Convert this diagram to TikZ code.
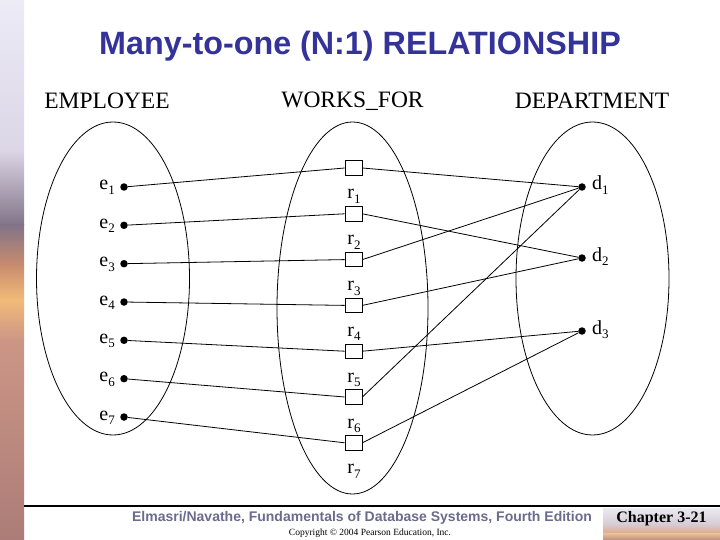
\documentclass[tikz,border=0pt]{standalone}
\usepackage{fontspec}
\setmainfont{Liberation Serif}
\setsansfont{Liberation Sans}
\definecolor{titleblue}{HTML}{333399}
\definecolor{footgray}{HTML}{6B6B8E}
\newcommand{\mysub}[1]{\raisebox{-4.5pt}{\fontsize{13}{14}\selectfont #1}}
\begin{document}
\begin{tikzpicture}[x=1pt,y=-1pt,
  dot/.style={circle,fill=black,inner sep=0pt,minimum size=7.5pt},
  rbox/.style={draw,fill=white,inner sep=0pt,minimum width=17pt,minimum height=14.5pt,line width=0.8pt},
  lbl/.style={font=\fontsize{20}{22}\selectfont,inner sep=0pt},
  head/.style={font=\fontsize{23.5}{26}\selectfont,inner sep=0pt},
  link/.style={line width=0.8pt},
  setell/.style={line width=0.8pt}]
\useasboundingbox (0,0) rectangle (720,540);
\fill[white] (0,0) rectangle (720,540);
% left decorative strip
\shade[top color={rgb,255:red,236;green,235;blue,246},bottom color={rgb,255:red,220;green,214;blue,230}] (0,0) rectangle (24,150);
\shade[top color={rgb,255:red,220;green,214;blue,230},bottom color={rgb,255:red,130;green,116;blue,136}] (0,150) rectangle (24,225);
\shade[top color={rgb,255:red,130;green,116;blue,136},bottom color={rgb,255:red,200;green,140;blue,110}] (0,225) rectangle (24,265);
\shade[top color={rgb,255:red,200;green,140;blue,110},bottom color={rgb,255:red,242;green,186;blue,120}] (0,265) rectangle (24,300);
\shade[top color={rgb,255:red,242;green,186;blue,120},bottom color={rgb,255:red,204;green,150;blue,134}] (0,300) rectangle (24,340);
\shade[top color={rgb,255:red,204;green,150;blue,134},bottom color={rgb,255:red,172;green,124;blue,120}] (0,340) rectangle (24,540);
% chapter box background
\shade[top color={rgb,255:red,236;green,234;blue,240},bottom color={rgb,255:red,214;green,204;blue,214}] (603,508) rectangle (720,524);
\shade[top color={rgb,255:red,214;green,204;blue,214},bottom color={rgb,255:red,226;green,170;blue,140}] (603,524) rectangle (720,533);
\shade[top color={rgb,255:red,236;green,196;blue,150},bottom color={rgb,255:red,190;green,140;blue,128}] (603,533) rectangle (720,540);
% title
\node[font=\sffamily\bfseries\fontsize{32.3}{34}\selectfont,text=titleblue] (title) at (360,46) {Many-to-one (N:1) RELATIONSHIP};
% headings
\node[head] (hE) at (107,101) {EMPLOYEE};
\node[head] (hW) at (352.5,101) {WORKS\_FOR};
\node[head] (hD) at (592,101) {DEPARTMENT};
% ellipses
\draw[setell] (113,278.5) ellipse [x radius=76.5, y radius=156.5];
\draw[setell] (352.5,308) ellipse [x radius=75.5, y radius=186];
\draw[setell] (592.5,278.5) ellipse [x radius=76.5, y radius=156.5];
% employees
\foreach \i/\y in {1/187,2/225.3,3/263.7,4/302,5/340.3,6/378.7,7/417}{
  \node[dot] (e\i) at (124,\y) {};
  \node[lbl,anchor=base east] (le\i) at (115,\y+3) {e\mysub{\i}};
}
% relationship boxes
\foreach \i/\y in {1/168,2/213.8,3/259.6,4/305.4,5/351.2,6/397,7/442.8}{
  \node[rbox] (r\i) at (353.5,\y) {};
  \node[lbl,anchor=base] (lr\i) at (354,\y+31) {r\mysub{\i}};
}
% departments
\foreach \i/\y in {1/187,2/258,3/331}{
  \node[dot] (d\i) at (582,\y) {};
  \node[lbl,anchor=base west] (ld\i) at (592,\y+3) {d\mysub{\i}};
}
% links
\foreach \i in {1,...,7}{ \draw[link] (e\i) -- (r\i.west); }
\draw[link] (r1.east) -- (d1);
\draw[link] (r2.east) -- (d2);
\draw[link] (r3.east) -- (d1);
\draw[link] (r4.east) -- (d2);
\draw[link] (r5.east) -- (d3);
\draw[link] (r6.east) -- (d1);
\draw[link] (r7.east) -- (d3);
% footer
\coordinate (fl) at (24,506);
\coordinate (fr) at (720,506);
\draw[line width=1.2pt] (fl) -- (fr);
\node[font=\sffamily\bfseries\fontsize{14}{15}\selectfont,text=footgray] (foot) at (362,518) {Elmasri/Navathe, Fundamentals of Database Systems, Fourth Edition};
\node[font=\fontsize{9.5}{10}\selectfont] (copy) at (370,533) {Copyright © 2004 Pearson Education, Inc.};
\node[font=\bfseries\fontsize{16}{18}\selectfont] (chap) at (661.5,519) {Chapter 3-21};
\end{tikzpicture}
\end{document}
